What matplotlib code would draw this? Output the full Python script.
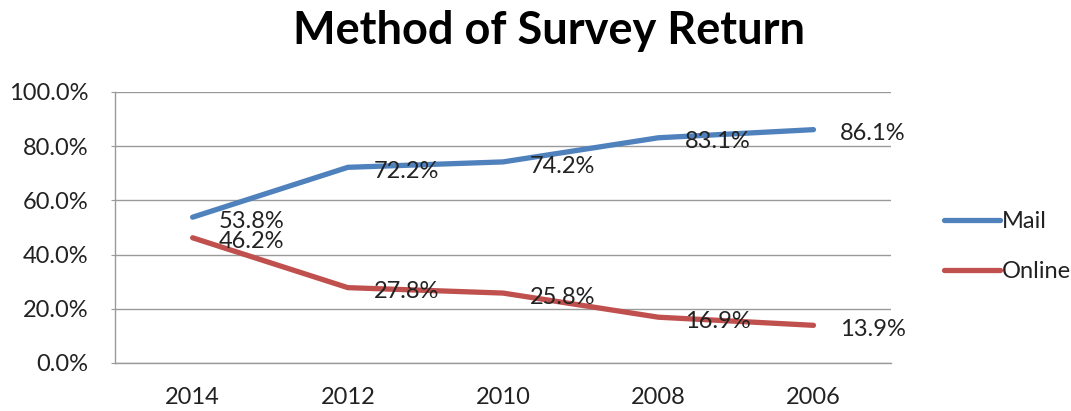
import matplotlib
matplotlib.use('Agg')
import matplotlib.pyplot as plt
from matplotlib.ticker import PercentFormatter

years = ['2014', '2012', '2010', '2008', '2006']
mail = [53.8, 72.2, 74.2, 83.1, 86.1]
online = [46.2, 27.8, 25.8, 16.9, 13.9]

plt.rcParams['font.family'] = ['Lato', 'DejaVu Sans']

fig = plt.figure(figsize=(10.71, 4.11), dpi=100)
ax = fig.add_axes([0.1074, 0.1168, 0.7246, 0.6594])

x = list(range(len(years)))
ax.plot(x, mail, color='#4F81BD', lw=3.8, label='Mail', solid_capstyle='round')
ax.plot(x, online, color='#C0504D', lw=3.8, label='Online', solid_capstyle='round')

# value labels sit to the right of each point
for series in (mail, online):
    for xi, v in zip(x, series):
        ax.annotate('%.1f%%' % v, (xi, v), xytext=(19, -3),
                    textcoords='offset points', ha='left', va='center',
                    fontsize=17, color='#222222')

ax.set_xlim(-0.5, len(years) - 0.5)
ax.set_ylim(0, 100)
ax.set_yticks(range(0, 101, 20))
ax.yaxis.set_major_formatter(PercentFormatter(decimals=1))
ax.set_xticks(x)
ax.set_xticklabels(years)

ax.grid(axis='y', color='#9a9a9a', lw=1)
ax.set_axisbelow(True)
for side in ('top', 'right'):
    ax.spines[side].set_visible(False)
for side in ('left', 'bottom'):
    ax.spines[side].set_color('#9a9a9a')
    ax.spines[side].set_linewidth(1)

ax.tick_params(axis='y', length=3, color='#9a9a9a', pad=16,
               labelsize=17, labelcolor='#222222')
ax.tick_params(axis='x', length=0, pad=17, labelsize=17,
               labelcolor='#222222')

fig.legend(loc='center left', bbox_to_anchor=(0.862, 0.4), frameon=False,
           fontsize=17, handlelength=2.35, handletextpad=0.1,
           labelspacing=1.25, labelcolor='#222222')

fig.text(0.513, 1 - 31 / 411, 'Method of Survey Return', ha='center',
         va='center', fontsize=32.5, fontweight='bold')

fig.savefig('out.png', dpi=100)
